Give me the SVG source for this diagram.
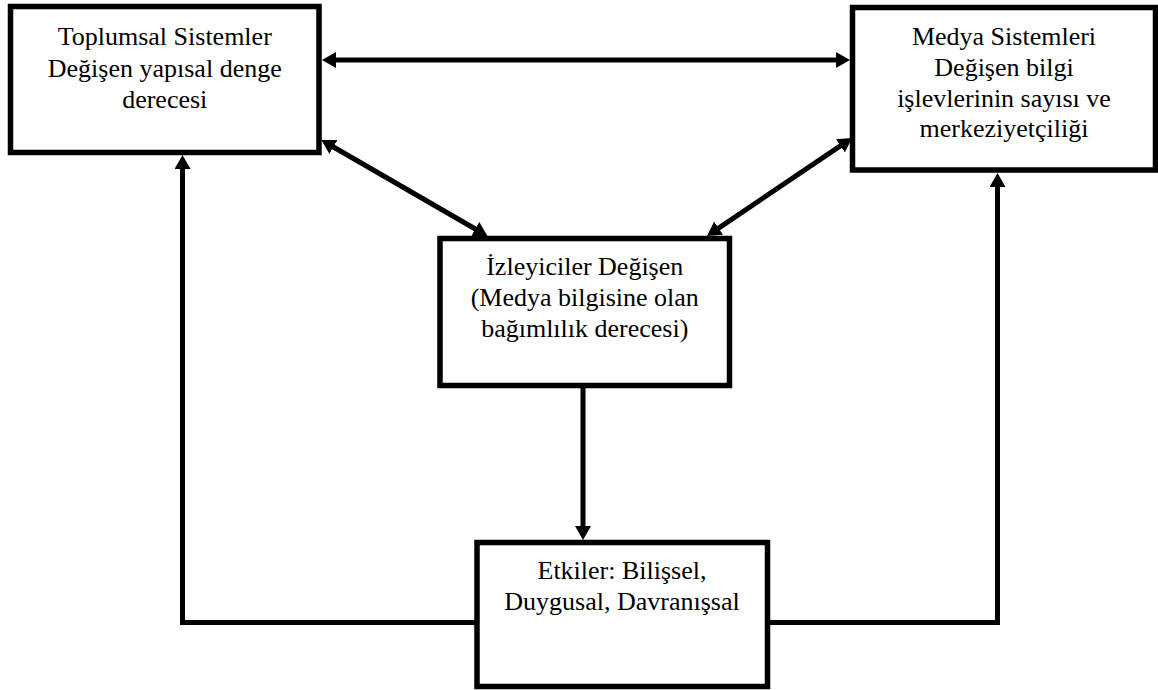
<svg xmlns="http://www.w3.org/2000/svg" width="1158" height="690" viewBox="0 0 1158 690">
<style>
.box{fill:#fff;stroke:#000;stroke-width:5.5}
.t{font-family:"Liberation Serif","Times New Roman",serif;font-size:26px;fill:#000;text-anchor:middle}
.c{fill:none;stroke:#000;stroke-width:5;stroke-linejoin:miter}
</style>
<defs>
<marker id="ah" viewBox="0 0 14 16" refX="4" refY="8" markerWidth="14" markerHeight="16" markerUnits="userSpaceOnUse" orient="auto-start-reverse">
<path d="M0,0 L14,8 L0,16 z" fill="#000"/>
</marker>
</defs>
<rect width="1158" height="690" fill="#fff"/>
<g id="connectors">
<line class="c" x1="332" y1="60" x2="840" y2="60" marker-start="url(#ah)" marker-end="url(#ah)"/>
<line class="c" x1="330" y1="145" x2="478.8" y2="231" marker-start="url(#ah)" marker-end="url(#ah)"/>
<line class="c" x1="843.7" y1="143.6" x2="715.3" y2="230.4" marker-start="url(#ah)" marker-end="url(#ah)"/>
<line class="c" x1="583" y1="388" x2="583" y2="530" stroke-width="4.5" marker-end="url(#ah)"/>
<polyline class="c" points="476,622.5 182.5,622.5 182.5,165" marker-end="url(#ah)"/>
<polyline class="c" points="768,622.5 997.5,622.5 997.5,183" marker-end="url(#ah)"/>
</g>
<g id="toplumsal">
<rect class="box" x="10.5" y="6.5" width="308.5" height="146"/>
<text class="t" x="164.75" y="45">Toplumsal Sistemler</text>
<text class="t" x="164.75" y="76.5">Değişen yapısal denge</text>
<text class="t" x="164.75" y="108">derecesi</text>
</g>
<g id="medya">
<rect class="box" x="852.5" y="7.5" width="303" height="162.5"/>
<text class="t" x="1004" y="45">Medya Sistemleri</text>
<text class="t" x="1004" y="76">Değişen bilgi</text>
<text class="t" x="1004" y="106.5">işlevlerinin sayısı ve</text>
<text class="t" x="1004" y="137">merkeziyetçiliği</text>
</g>
<g id="izleyiciler">
<rect class="box" x="440" y="238.5" width="289.5" height="147"/>
<text class="t" x="584.75" y="275">İzleyiciler Değişen</text>
<text class="t" x="584.75" y="306">(Medya bilgisine olan</text>
<text class="t" x="584.75" y="337">bağımlılık derecesi)</text>
</g>
<g id="etkiler">
<rect class="box" x="477" y="542.5" width="290.5" height="144"/>
<text class="t" x="622" y="579">Etkiler: Bilişsel,</text>
<text class="t" x="622" y="610">Duygusal, Davranışsal</text>
</g>
</svg>
